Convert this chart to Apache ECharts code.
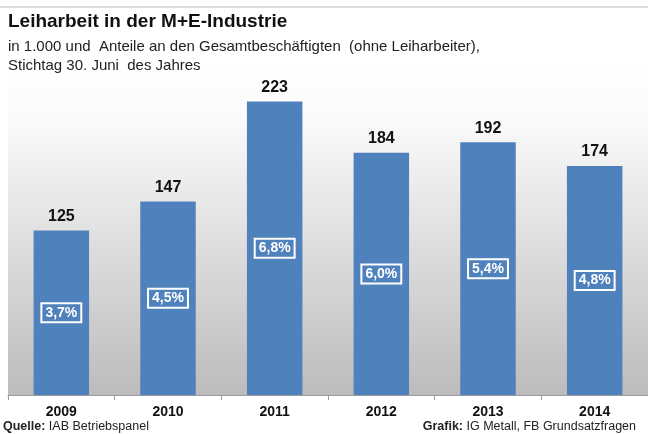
<!DOCTYPE html>
<html><head><meta charset="utf-8">
<script src="https://cdn.jsdelivr.net/npm/echarts@6/dist/echarts.min.js"></script>
<style>html,body{margin:0;padding:0;background:#fff}#c{width:648px;height:434px}</style>
</head><body><div id="c"></div>
<script>
const years = ['2009','2010','2011','2012','2013','2014'];
const workers = [125, 147, 223, 184, 192, 174];
const shares = ['3,7%','4,5%','6,8%','6,0%','5,4%','4,8%'];

const chart = echarts.init(document.getElementById('c'), null, {renderer:'canvas'});
const F = '"Liberation Sans", Arial, sans-serif';
chart.setOption({
  animation:false,
  backgroundColor:'#fff',
  textStyle:{fontFamily:F},
  graphic:[
    {type:'rect', shape:{x:0,y:6,width:648,height:2}, style:{fill:'#dcdcdc'}},
    {type:'text', left:8, top:12, style:{text:'Leiharbeit in der M+E-Industrie', font:'bold 19px '+F, fill:'#111'}},
    {type:'text', left:8, top:37, style:{text:'in 1.000 und  Anteile an den Gesamtbeschäftigten  (ohne Leiharbeiter),\nStichtag 30. Juni  des Jahres', font:'15px '+F, fill:'#222', lineHeight:19}},
    {type:'text', left:3, top:420, style:{text:'{b|Quelle:} IAB Betriebspanel', font:'12.5px '+F, fill:'#222', rich:{b:{fontWeight:'bold', fontSize:12.5, fontFamily:F, fill:'#222'}}}},
    {type:'text', right:12, top:420, style:{text:'{b|Grafik:} IG Metall, FB Grundsatzfragen', font:'12.5px '+F, fill:'#222', rich:{b:{fontWeight:'bold', fontSize:12.5, fontFamily:F, fill:'#222'}}}}
  ],
  grid:{left:8, right:0, top:66, bottom:39, show:true, borderWidth:0,
    backgroundColor:new echarts.graphic.LinearGradient(0,0,0,1,[{offset:0,color:'#ffffff'},{offset:0.15,color:'#fbfbfb'},{offset:1,color:'#bcbcbc'}])},
  xAxis:{type:'category', data:years,
    axisLine:{lineStyle:{color:'#9a9a9a', width:1}},
    axisTick:{show:true, length:5, lineStyle:{color:'#9a9a9a'}},
    axisLabel:{color:'#111', fontWeight:'bold', fontSize:14, margin:10, fontFamily:F}},
  yAxis:{type:'value', min:0, max:250, show:false, splitLine:{show:false}},
  series:[{
    type:'bar', data:workers, barWidth:'52%', itemStyle:{color:'#4f81bd'},
    label:{show:true, position:'top', distance:6, color:'#111', fontWeight:'bold', fontSize:16, fontFamily:F},
  },{
    type:'bar', data:workers, barWidth:'52%', barGap:'-100%', itemStyle:{color:'transparent'},
    label:{show:true, position:'inside', formatter:p=>shares[p.dataIndex],
      color:'#fff', fontWeight:'bold', fontSize:14, fontFamily:F,
      borderColor:'#fff', borderWidth:2, padding:[3,4,2,4]}
  }]
});
</script></body></html>
